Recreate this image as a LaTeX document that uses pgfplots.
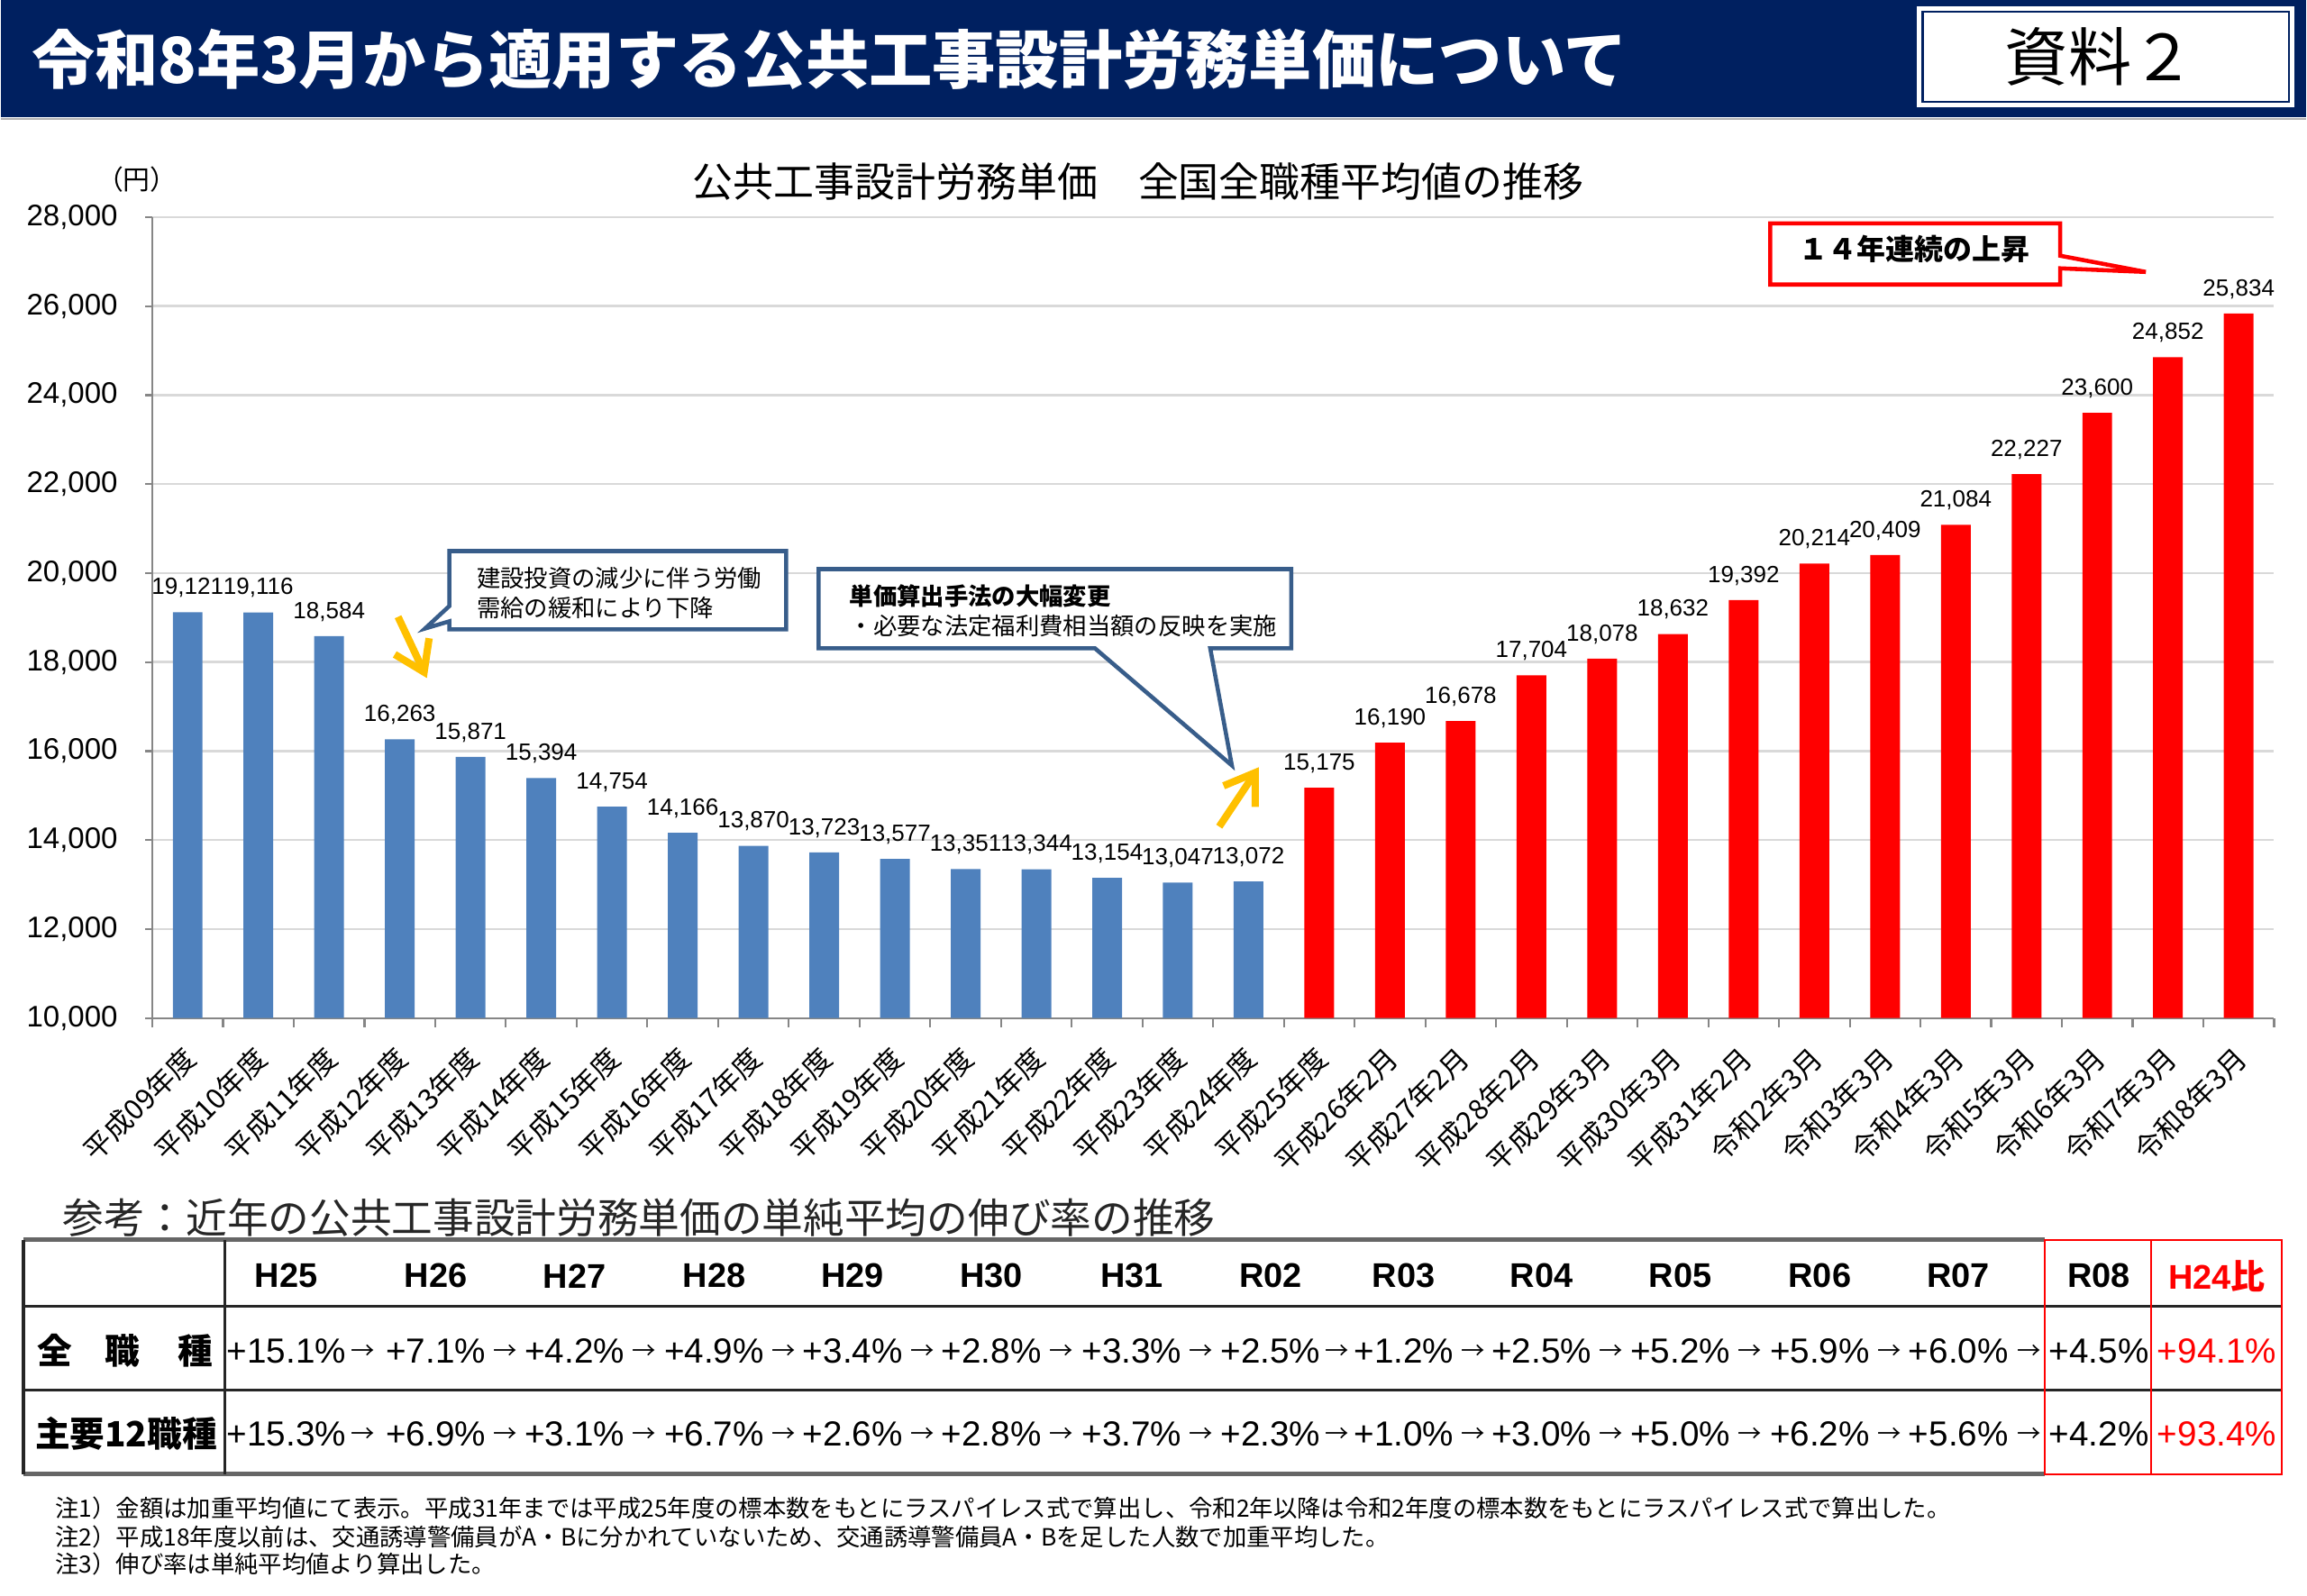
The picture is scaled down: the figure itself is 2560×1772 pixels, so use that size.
\documentclass[border=0pt]{standalone}
\usepackage{fontspec}
\setmainfont{Liberation Sans}
\newfontfamily\jp{Noto Sans CJK JP}
\usepackage{pgfplots}
\pgfplotsset{compat=1.18}
\usepackage{pgfplotstable}
\usetikzlibrary{arrows.meta}

\definecolor{navy}{RGB}{0,32,96}
\definecolor{barblue}{RGB}{79,129,189}
\definecolor{barred}{RGB}{255,0,0}
\definecolor{callblue}{RGB}{56,93,138}
\definecolor{arrowyellow}{RGB}{255,192,0}
\definecolor{axisgray}{RGB}{134,134,134}
\definecolor{gridgray}{RGB}{217,217,217}

\newcommand\fs[1]{\fontsize{#1}{#1}\selectfont}

% 平成09年度 - 平成24年度
\pgfplotstableread{
x y
0 19121
1 19116
2 18584
3 16263
4 15871
5 15394
6 14754
7 14166
8 13870
9 13723
10 13577
11 13351
12 13344
13 13154
14 13047
15 13072
}\before

% 平成25年度 - 令和8年3月
\pgfplotstableread{
x y
16 15175
17 16190
18 16678
19 17704
20 18078
21 18632
22 19392
23 20214
24 20409
25 21084
26 22227
27 23600
28 24852
29 25834
}\after

\begin{document}
\begin{tikzpicture}

\begin{axis}[
  at={(1.68cm,-11.30cm)}, anchor=south west,
  scale only axis, width=23.55cm, height=8.89cm,
  xmin=-0.5, xmax=29.5, ymin=10000, ymax=28000,
  axis x line*=bottom, axis y line*=left,
  axis line style={draw=axisgray, line width=0.7pt},
  ytick={10000,12000,...,28000},
  ymajorgrids, grid style={gridgray, line width=0.7pt},
  tick align=outside, major tick length=0.08cm,
  tick style={axisgray, line width=0.6pt},
  major x tick style={draw=none},
  minor xtick={-0.5,0.5,...,29.5}, minor tick length=0.1cm,
  xtick={0,...,29},
  xticklabels={平成09年度,平成10年度,平成11年度,平成12年度,平成13年度,平成14年度,平成15年度,平成16年度,平成17年度,平成18年度,平成19年度,平成20年度,平成21年度,平成22年度,平成23年度,平成24年度,平成25年度,平成26年2月,平成27年2月,平成28年2月,平成29年3月,平成30年3月,平成31年2月,令和2年3月,令和3年3月,令和4年3月,令和5年3月,令和6年3月,令和7年3月,令和8年3月},
  xticklabel style={font=\jp\fs{8.9}, xshift=0.06cm, yshift=-0.28cm, rotate=45, anchor=east, inner sep=1pt},
  yticklabel style={font=\fs{9.4}, xshift=-0.18cm},
  /pgf/number format/assume math mode=true,
  /pgf/number format/1000 sep={,},
  scaled y ticks=false,
  nodes near coords,
  nodes near coords style={font=\fs{7.4}, anchor=south, yshift=0.04cm},
  clip=false,
]
\addplot[ybar, bar width=0.33cm, bar shift=0pt, fill=barblue, draw=none] table[x=x, y=y] {\before};
\addplot[ybar, bar width=0.33cm, bar shift=0pt, fill=barred, draw=none] table[x=x, y=y] {\after};
\end{axis}

\begin{scope}[x=0.01cm, y=-0.01cm]
% page frame
\path (0,0) rectangle (2560,1772);

% header band
\fill[navy] (0,0) rectangle (2560,130);
\draw[gray!60, line width=0.6pt] (0,132) -- (2560,132);
\node[anchor=west, text=white, font=\jp\bfseries\fs{20}] at (22,66) {令和8年3月から適用する公共工事設計労務単価について};
\fill[white] (2128,7) rectangle (2547,119);
\draw[navy, line width=0.8pt] (2134,13) rectangle (2541,113);
\node[font=\jp\fs{20}] at (2331,63) {資料２};

% chart title
\node[font=\jp\fs{12.8}] at (1263,202) {公共工事設計労務単価　全国全職種平均値の推移};
\node[font=\jp\fs{8.5}] at (151,199) {（円）};

% callout 1
\draw[callblue, line width=1.3pt, fill=white, line join=miter]
  (498,612) -- (872,612) -- (872,699) -- (498,699) -- (498,690) -- (471,698) -- (498,673) -- cycle;
\node[anchor=west, font=\jp\fs{7.5}] at (516,642) {建設投資の減少に伴う労働};
\node[anchor=west, font=\jp\fs{7.5}] at (516,675) {需給の緩和により下降};
\draw[arrowyellow, line width=2.3pt, -{Straight Barb[length=9pt, width=12pt]}] (441,685) -- (473,753);

% callout 2
\draw[callblue, line width=1.3pt, fill=white, line join=miter]
  (908,632) -- (1433,632) -- (1433,720) -- (1343,720) -- (1367,850) -- (1215,720) -- (908,720) -- cycle;
\node[anchor=west, font=\jp\bfseries\fs{7.5}] at (930,662) {単価算出手法の大幅変更};
\node[anchor=west, font=\jp\fs{7.5}] at (930,695) {・必要な法定福利費相当額の反映を実施};
\draw[arrowyellow, line width=2.3pt, -{Straight Barb[length=9pt, width=12pt]}] (1353,918) -- (1397,852);

% callout 3
\draw[red, line width=1.3pt, fill=white, line join=miter]
  (1965,248) -- (2287,248) -- (2287,284) -- (2382,302) -- (2287,298) -- (2287,316) -- (1965,316) -- cycle;
\node[font=\jp\bfseries\fs{9.1}] at (2125,277) {１４年連続の上昇};

% reference table
\node[anchor=west, font=\jp\fs{13}, text=black!85] at (56,1352) {参考：近年の公共工事設計労務単価の単純平均の伸び率の推移};
\draw[black!60, line width=1.4pt] (25,1377) -- (2270,1377);
\draw[black!60, line width=1.4pt] (25,1637) -- (2270,1637);
\draw[black!85, line width=0.9pt] (25,1451) -- (2533,1451) (25,1544) -- (2533,1544);
\draw[black!85, line width=0.9pt] (25,1377) -- (25,1637) (249,1377) -- (249,1637);
\draw[red, line width=0.6pt] (2270,1377) rectangle (2533,1637) (2388,1377) -- (2388,1637);

\foreach \x/\t in {317/H25,483/H26,637/H27,792/H28,946/H29,1100/H30,1256/H31,1410/R02,1558/R03,1711/R04,1865/R05,2020/R06,2174/R07,2330/R08}
  \node[font=\bfseries\fs{10.8}] at (\x,1417) {\t};
\node[font=\bfseries\fs{10.8}, text=red] at (2461,1417) {H24{\jp 比}};

\node[font=\jp\bfseries\fs{11}] at (60,1500) {全};
\node[font=\jp\bfseries\fs{11}] at (135,1500) {職};
\node[font=\jp\bfseries\fs{11}] at (216,1500) {種};
\node[font=\jp\bfseries\fs{11}] at (139,1592) {主要12職種};

\foreach \x/\a/\b in {317/15.1/15.3,483/7.1/6.9,637/4.2/3.1,792/4.9/6.7,946/3.4/2.6,1100/2.8/2.8,1256/3.3/3.7,1410/2.5/2.3,1558/1.2/1.0,1711/2.5/3.0,1865/5.2/5.0,2020/5.9/6.2,2174/6.0/5.6,2330/4.5/4.2}{
  \node[font=\fs{11}] at (\x,1500) {+\a\%};
  \node[font=\fs{11}] at (\x,1592) {+\b\%};
}
\node[font=\fs{11}, text=red] at (2461,1500) {+94.1\%};
\node[font=\fs{11}, text=red] at (2461,1592) {+93.4\%};

\foreach \x in {402,560,714.5,869,1023,1178,1333,1484,1634.5,1788,1942.5,2097,2252}{
  \node[font=\jp\fs{7.5}] at (\x,1502) {→};
  \node[font=\jp\fs{7.5}] at (\x,1594) {→};
}

% notes
\node[anchor=west, font=\jp\fs{7.5}] at (48,1675) {注1）金額は加重平均値にて表示。平成31年までは平成25年度の標本数をもとにラスパイレス式で算出し、令和2年以降は令和2年度の標本数をもとにラスパイレス式で算出した。};
\node[anchor=west, font=\jp\fs{7.5}] at (48,1707) {注2）平成18年度以前は、交通誘導警備員がA・Bに分かれていないため、交通誘導警備員A・Bを足した人数で加重平均した。};
\node[anchor=west, font=\jp\fs{7.5}] at (48,1737) {注3）伸び率は単純平均値より算出した。};
\end{scope}

\end{tikzpicture}
\end{document}
